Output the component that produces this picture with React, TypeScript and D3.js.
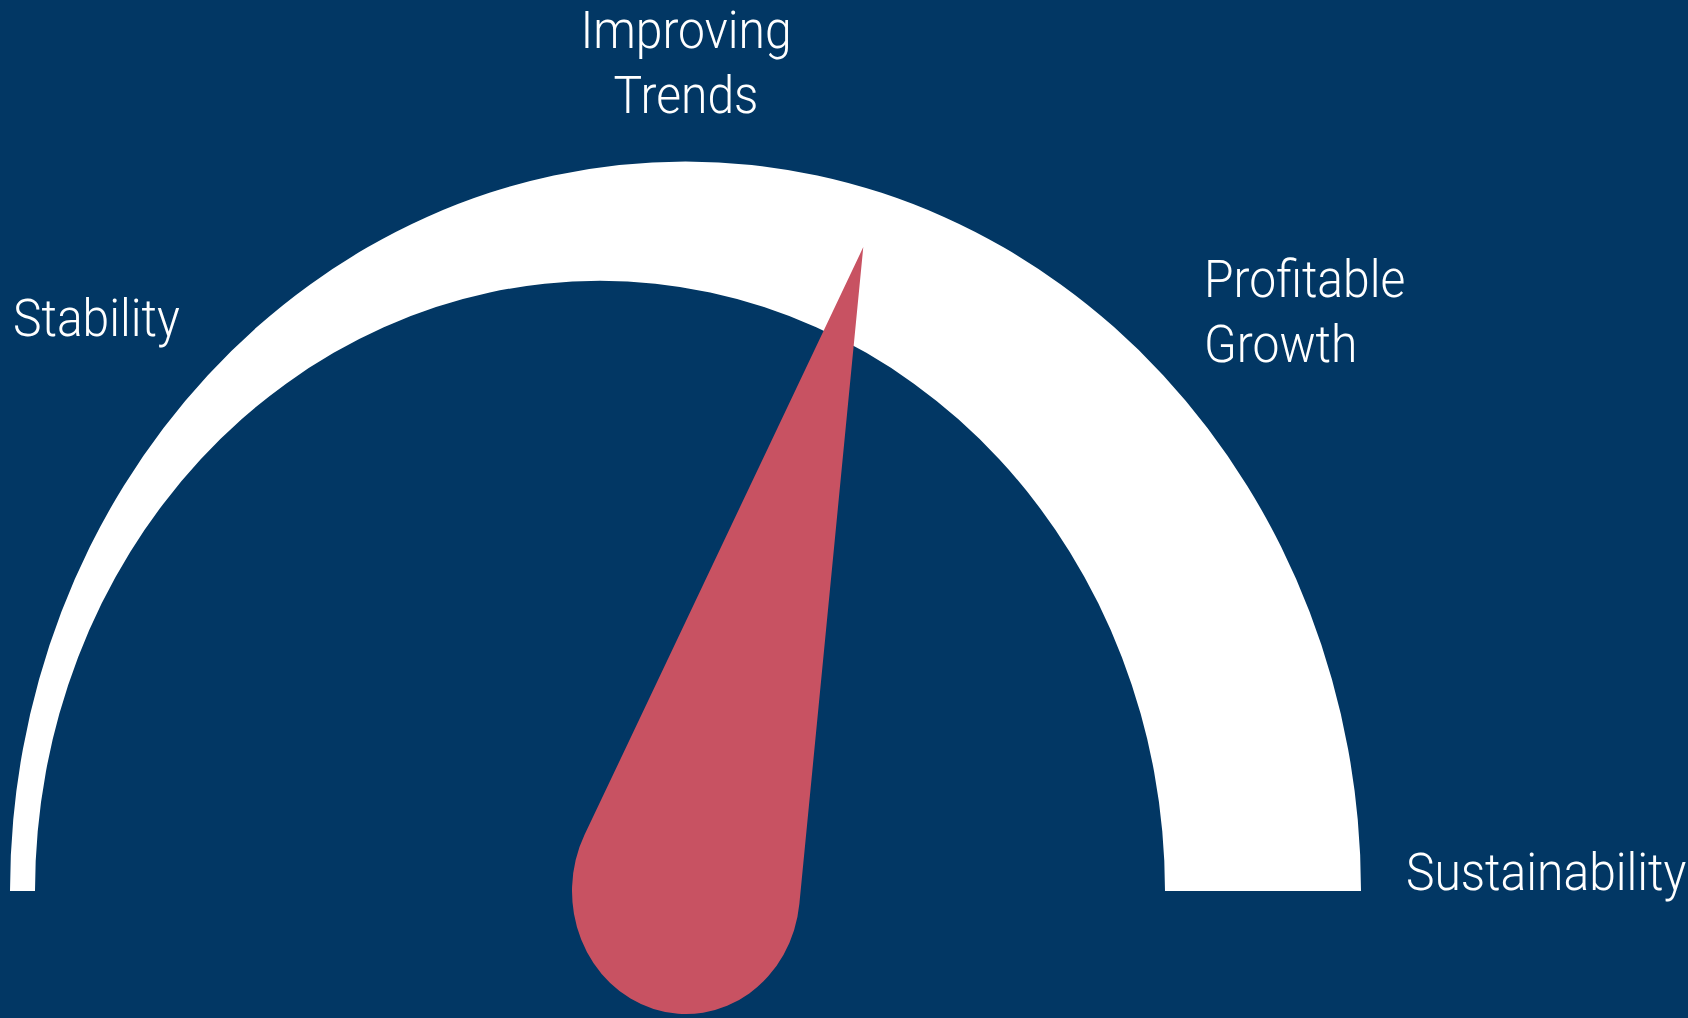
import React, { useEffect } from "react";
import * as d3 from "d3";

const W = 1688;
const H = 1018;

// Gauge stages (left to right) and needle reading on a 0..1 scale
const stageLabels = ["Stability", "Improving Trends", "Profitable Growth", "Sustainability"];
const gaugeDomain = [0, 1];
const needleValues = [0.592];

// Layout (kept apart from data)
const labelLayout = [
  { x: 13, y: 336, anchor: "start", lines: ["Stability"] },
  { x: 686, y: 48, anchor: "middle", lines: ["Improving", "Trends"] },
  { x: 1204, y: 297, anchor: "start", lines: ["Profitable", "Growth"] },
  { x: 1406, y: 890, anchor: "start", lines: ["Sustainability"] },
];

const BG = "#023764";
const NEEDLE = "#C85262";
const FONT = "Roboto, 'Liberation Sans', Arial, sans-serif";

export default function App() {
  useEffect(() => {
    document.body.style.margin = "0";
  }, []);

  const baseY = 891;
  const k = 1.08; // vertical stretch of the drawing

  const angle = d3.scaleLinear().domain(gaugeDomain).range([Math.PI, 2 * Math.PI]);

  // white band: outer and (offset) inner semicircles
  const outer = { cx: 685.5, r: 675.5 };
  const inner = { cx: 600, r: 565 };
  const band = d3.path();
  band.moveTo(outer.cx - outer.r, 0);
  band.arc(outer.cx, 0, outer.r, Math.PI, 2 * Math.PI, false);
  band.lineTo(inner.cx + inner.r, 0);
  band.arc(inner.cx, 0, inner.r, 0, -Math.PI, true);
  band.closePath();

  // needle: circle base with tangent lines to tip
  const C = { x: 686, y: 0 };
  const r = 114;
  const L = 622;
  const needles = needleValues.map((v) => {
    const th = angle(v);
    const tx = C.x + L * Math.cos(th);
    const ty = C.y + L * Math.sin(th);
    const a = Math.acos(r / L);
    const p = d3.path();
    p.moveTo(tx, ty);
    p.lineTo(C.x + r * Math.cos(th + a), C.y + r * Math.sin(th + a));
    p.arc(C.x, C.y, r, th + a, th - a + 2 * Math.PI, false);
    p.closePath();
    return p.toString();
  });

  return (
    <svg
      width={W}
      height={H}
      viewBox={`0 0 ${W} ${H}`}
      style={{ position: "absolute", left: 0, top: 0, display: "block" }}
    >
      <rect x={0} y={0} width={W} height={H} fill={BG} />
      <g transform={`translate(0,${baseY}) scale(1,${k})`}>
        <path d={band.toString()} fill="#FFFFFF" />
        {needles.map((d, i) => (
          <path key={i} d={d} fill={NEEDLE} />
        ))}
      </g>
      {labelLayout.map((lab, i) => (
        <g key={i}>
          {lab.lines.map((ln, j) => (
            <text
              key={j}
              transform={`translate(${lab.x},${lab.y + j * 65}) scale(1,${k})`}
              textAnchor={lab.anchor}
              fill="#FFFFFF"
              fontFamily={FONT}
              fontWeight={300}
              fontSize={48}
            >
              {ln}
            </text>
          ))}
        </g>
      ))}
      <title>{stageLabels.join(" → ")}</title>
    </svg>
  );
}
